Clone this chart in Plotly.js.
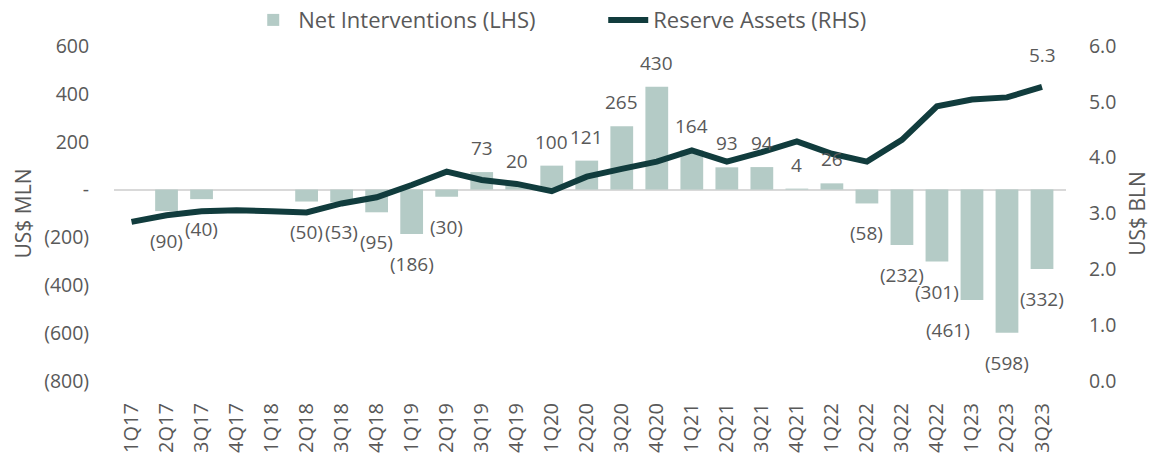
<!DOCTYPE html>
<html>
<head>
<meta charset="utf-8">
<script src="https://cdn.plot.ly/plotly-3.0.1.min.js"></script>
<style>
html,body{margin:0;padding:0;background:#fff;}
#chart{width:1153px;height:454px;}
</style>
</head>
<body>
<div id="chart"></div>
<script>
// ---- Data ----
const quarters = ["1Q17","2Q17","3Q17","4Q17","1Q18","2Q18","3Q18","4Q18","1Q19","2Q19","3Q19","4Q19","1Q20","2Q20","3Q20","4Q20","1Q21","2Q21","3Q21","4Q21","1Q22","2Q22","3Q22","4Q22","1Q23","2Q23","3Q23"];
const netInterventions = [null,-90,-40,null,null,-50,-53,-95,-186,-30,73,20,100,121,265,430,164,93,94,4,26,-58,-232,-301,-461,-598,-332];
const reserveAssets = [2.85,2.97,3.04,3.06,3.04,3.02,3.18,3.29,3.51,3.75,3.60,3.53,3.40,3.66,3.80,3.93,4.13,3.93,4.10,4.29,4.07,3.93,4.32,4.92,5.04,5.08,5.27];
const leftTickVals = [-800,-600,-400,-200,0,200,400,600];
const leftTickText = ["(800)","(600)","(400)","(200)","-","200","400","600"];
const lastReserveLabel = "5.3";

// ---- Style ----
const FONT = "Open Sans, sans-serif";
const TXT = "#595959";
const BAR = "#b4cbc6";
const LINE = "#113c3d";
const labelXShift = {"1Q23": -24};

function fmt(v){ return v < 0 ? "(" + (-v) + ")" : String(v); }

const traces = [
  {
    type: "bar", name: "Net Interventions (LHS)",
    x: quarters, y: netInterventions,
    marker: {color: BAR}, yaxis: "y", hoverinfo: "skip"
  },
  {
    type: "scatter", mode: "lines", name: "Reserve Assets (RHS)",
    x: quarters, y: reserveAssets, yaxis: "y2",
    line: {color: LINE, width: 6}, hoverinfo: "skip"
  }
];

const annotations = [];
quarters.forEach((q, i) => {
  const v = netInterventions[i];
  if (v === null) return;
  annotations.push({
    x: q, y: v, xref: "x", yref: "y", text: fmt(v), showarrow: false,
    yanchor: "middle", yshift: v < 0 ? -30 : 24, xshift: labelXShift[q] || 0,
    font: {family: FONT, size: 19, color: TXT}
  });
});
annotations.push({
  x: quarters[quarters.length-1], y: reserveAssets[reserveAssets.length-1],
  xref: "x", yref: "y2", text: lastReserveLabel, showarrow: false,
  yanchor: "middle", yshift: 32, font: {family: FONT, size: 19, color: TXT}
});

const layout = {
  width: 1153, height: 454,
  margin: {l: 114, r: 87, t: 46, b: 73, autoexpand: false},
  paper_bgcolor: "#fff", plot_bgcolor: "#fff",
  font: {family: FONT, size: 19, color: TXT},
  bargap: 0.35,
  showlegend: true,
  legend: {orientation: "h", x: 0.141, xanchor: "left", y: 1.14, yanchor: "top",
           font: {family: FONT, size: 22, color: TXT}, bgcolor: "rgba(0,0,0,0)",
           itemwidth: 40, entrywidth: 300, entrywidthmode: "pixels"},
  xaxis: {type: "category", tickangle: -90, showgrid: false, showline: false, zeroline: false,
          ticks: "outside", ticklen: 13, tickcolor: "rgba(0,0,0,0)",
          tickfont: {family: FONT, size: 20, color: TXT}, automargin: false, fixedrange: true},
  yaxis: {range: [-800, 600], tickvals: leftTickVals, ticktext: leftTickText,
          showgrid: false, showline: false, zeroline: true, zerolinecolor: "#d9d9d9", zerolinewidth: 2,
          ticks: "outside", ticklen: 20, tickcolor: "rgba(0,0,0,0)",
          tickfont: {family: FONT, size: 19.5, color: TXT},
          title: {text: "US$ MLN", font: {family: FONT, size: 21, color: TXT}, standoff: 6},
          automargin: false, fixedrange: true},
  yaxis2: {range: [0, 6], dtick: 1, tickformat: ".1f", overlaying: "y", side: "right",
           showgrid: false, showline: false, zeroline: false,
           ticks: "outside", ticklen: 18, tickcolor: "rgba(0,0,0,0)",
           tickfont: {family: FONT, size: 19.5, color: TXT},
           title: {text: "US$ BLN", font: {family: FONT, size: 21, color: TXT}, standoff: 14},
           automargin: false, fixedrange: true},
  annotations: annotations
};

Plotly.newPlot("chart", traces, layout, {displayModeBar: false, staticPlot: true});
</script>
</body>
</html>
